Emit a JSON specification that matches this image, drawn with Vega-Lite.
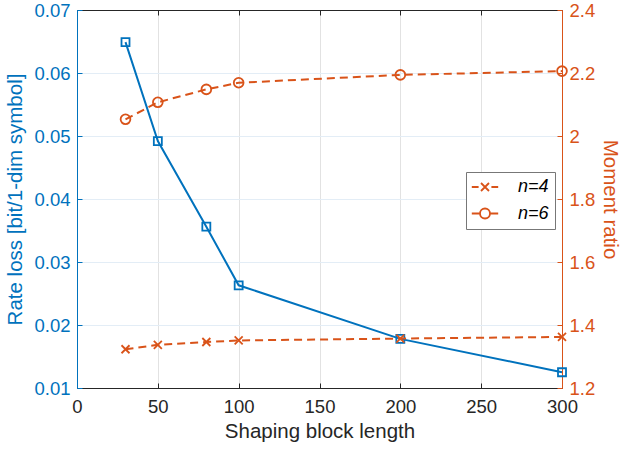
{
  "$schema": "https://vega.github.io/schema/vega-lite/v6.json",
  "width": 485,
  "height": 378,
  "autosize": {"type": "none"},
  "padding": {"left": 77, "top": 10, "right": 60, "bottom": 65},
  "background": "white",
  "config": {
    "font": "Liberation Sans",
    "view": {"stroke": null},
    "axis": {
      "labelFontSize": 18.5,
      "titleFontSize": 20.5,
      "titleFontWeight": "normal",
      "tickSize": -5,
      "labelPadding": 12,
      "labelFlush": false,
      "labelOverlap": false,
      "domainWidth": 1,
      "tickWidth": 1
    }
  },
  "datasets": {
    "rate": [
      {"length": 30, "value": 0.0649},
      {"length": 50, "value": 0.0492},
      {"length": 80, "value": 0.0356},
      {"length": 100, "value": 0.0263},
      {"length": 200, "value": 0.0178},
      {"length": 300, "value": 0.0125}
    ],
    "moment": [
      {"length": 30, "series": "n=4", "value": 1.323},
      {"length": 50, "series": "n=4", "value": 1.337},
      {"length": 80, "series": "n=4", "value": 1.346},
      {"length": 100, "series": "n=4", "value": 1.351},
      {"length": 200, "series": "n=4", "value": 1.357},
      {"length": 300, "series": "n=4", "value": 1.362},
      {"length": 30, "series": "n=6", "value": 2.053},
      {"length": 50, "series": "n=6", "value": 2.107},
      {"length": 80, "series": "n=6", "value": 2.148},
      {"length": 100, "series": "n=6", "value": 2.169},
      {"length": 200, "series": "n=6", "value": 2.194},
      {"length": 300, "series": "n=6", "value": 2.206}
    ]
  },
  "layer": [
    {
      "data": {"name": "rate"},
      "encoding": {
        "x": {
          "field": "length", "type": "quantitative",
          "scale": {"domain": [0, 300], "nice": false},
          "axis": {
            "title": "Shaping block length",
            "orient": "bottom",
            "values": [0, 50, 100, 150, 200, 250, 300],
            "grid": true, "gridColor": "#e2e2e2", "gridWidth": 1,
            "domainColor": "#262626", "tickColor": "#262626",
            "labelColor": "#262626", "titleColor": "#262626",
            "labelPadding": 14,
            "titlePadding": 6
          }
        },
        "y": {
          "field": "value", "type": "quantitative",
          "scale": {"domain": [0.01, 0.07], "nice": false, "zero": false},
          "axis": {
            "title": "Rate loss [bit/1-dim symbol]",
            "orient": "left",
            "values": [0.01, 0.02, 0.03, 0.04, 0.05, 0.06, 0.07],
            "format": ".2f",
            "grid": true, "gridColor": "#e3edf6", "gridWidth": 1,
            "domainColor": "#0072BD", "tickColor": "#0072BD",
            "labelColor": "#0072BD", "titleColor": "#0072BD",
            "titlePadding": 8
          }
        }
      },
      "layer": [
        {"mark": {"type": "line", "color": "#0072BD", "strokeWidth": 2}},
        {"mark": {"type": "point", "shape": "square", "filled": false, "color": "#0072BD", "size": 64, "strokeWidth": 1.8, "opacity": 1}}
      ]
    },
    {
      "data": {"name": "moment"},
      "encoding": {
        "x": {
          "field": "length", "type": "quantitative",
          "axis": {
            "orient": "top", "title": null, "labels": false, "grid": false,
            "values": [0, 50, 100, 150, 200, 250, 300],
            "domainColor": "#262626", "tickColor": "#262626"
          }
        },
        "y": {
          "field": "value", "type": "quantitative",
          "scale": {"domain": [1.2, 2.4], "nice": false, "zero": false},
          "axis": {
            "title": "Moment ratio",
            "orient": "right",
            "values": [1.2, 1.4, 1.6, 1.8, 2.0, 2.2, 2.4],
            "format": ".1~f",
            "grid": false,
            "domainColor": "#D95319", "tickColor": "#D95319",
            "labelColor": "#D95319", "titleColor": "#D95319",
            "titlePadding": 5
          }
        }
      },
      "layer": [
        {
          "mark": {"type": "line", "color": "#D95319", "strokeWidth": 2, "strokeDash": [8, 5]},
          "encoding": {"detail": {"field": "series"}}
        },
        {
          "transform": [{"filter": "datum.series === 'n=4'"}],
          "mark": {"type": "point", "shape": "M-1,-1L1,1M1,-1L-1,1", "filled": false, "color": "#D95319", "size": 64, "strokeWidth": 1.8, "opacity": 1}
        },
        {
          "transform": [{"filter": "datum.series === 'n=6'"}],
          "mark": {"type": "point", "shape": "circle", "filled": false, "color": "#D95319", "size": 95, "strokeWidth": 1.8, "opacity": 1}
        },
        {
          "mark": {"type": "point", "filled": false, "color": "#D95319", "size": 64, "strokeWidth": 1.8, "opacity": 0},
          "encoding": {
            "shape": {
              "field": "series", "type": "nominal",
              "scale": {
                "domain": ["n=4", "n=6"],
                "range": [
                  "M-3.3,0H-1.6M-1,-1L1,1M1,-1L-1,1M1.6,0H3.3",
                  "M-3.3,0H-1.25M1.25,0H3.3M1.25,0A1.25,1.25,0,1,1,-1.25,0A1.25,1.25,0,1,1,1.25,0"
                ]
              },
              "legend": {
                "orient": "none",
                "legendX": 389,
                "legendY": 162,
                "title": null,
                "labelFontSize": 18,
                "labelFontStyle": "italic",
                "labelColor": "black",
                "strokeColor": "#777777",
                "fillColor": "white",
                "padding": 6,
                "rowPadding": 8.5,
                "symbolSize": 64,
                "symbolOffset": 4,
                "labelOffset": 24,
                "symbolOpacity": 1,
                "symbolStrokeWidth": 1.8,
                "symbolStrokeColor": "#D95319",
                "symbolFillColor": "transparent"
              }
            }
          }
        }
      ]
    }
  ],
  "resolve": {"scale": {"y": "independent"}, "axis": {"y": "independent", "x": "independent"}}
}
